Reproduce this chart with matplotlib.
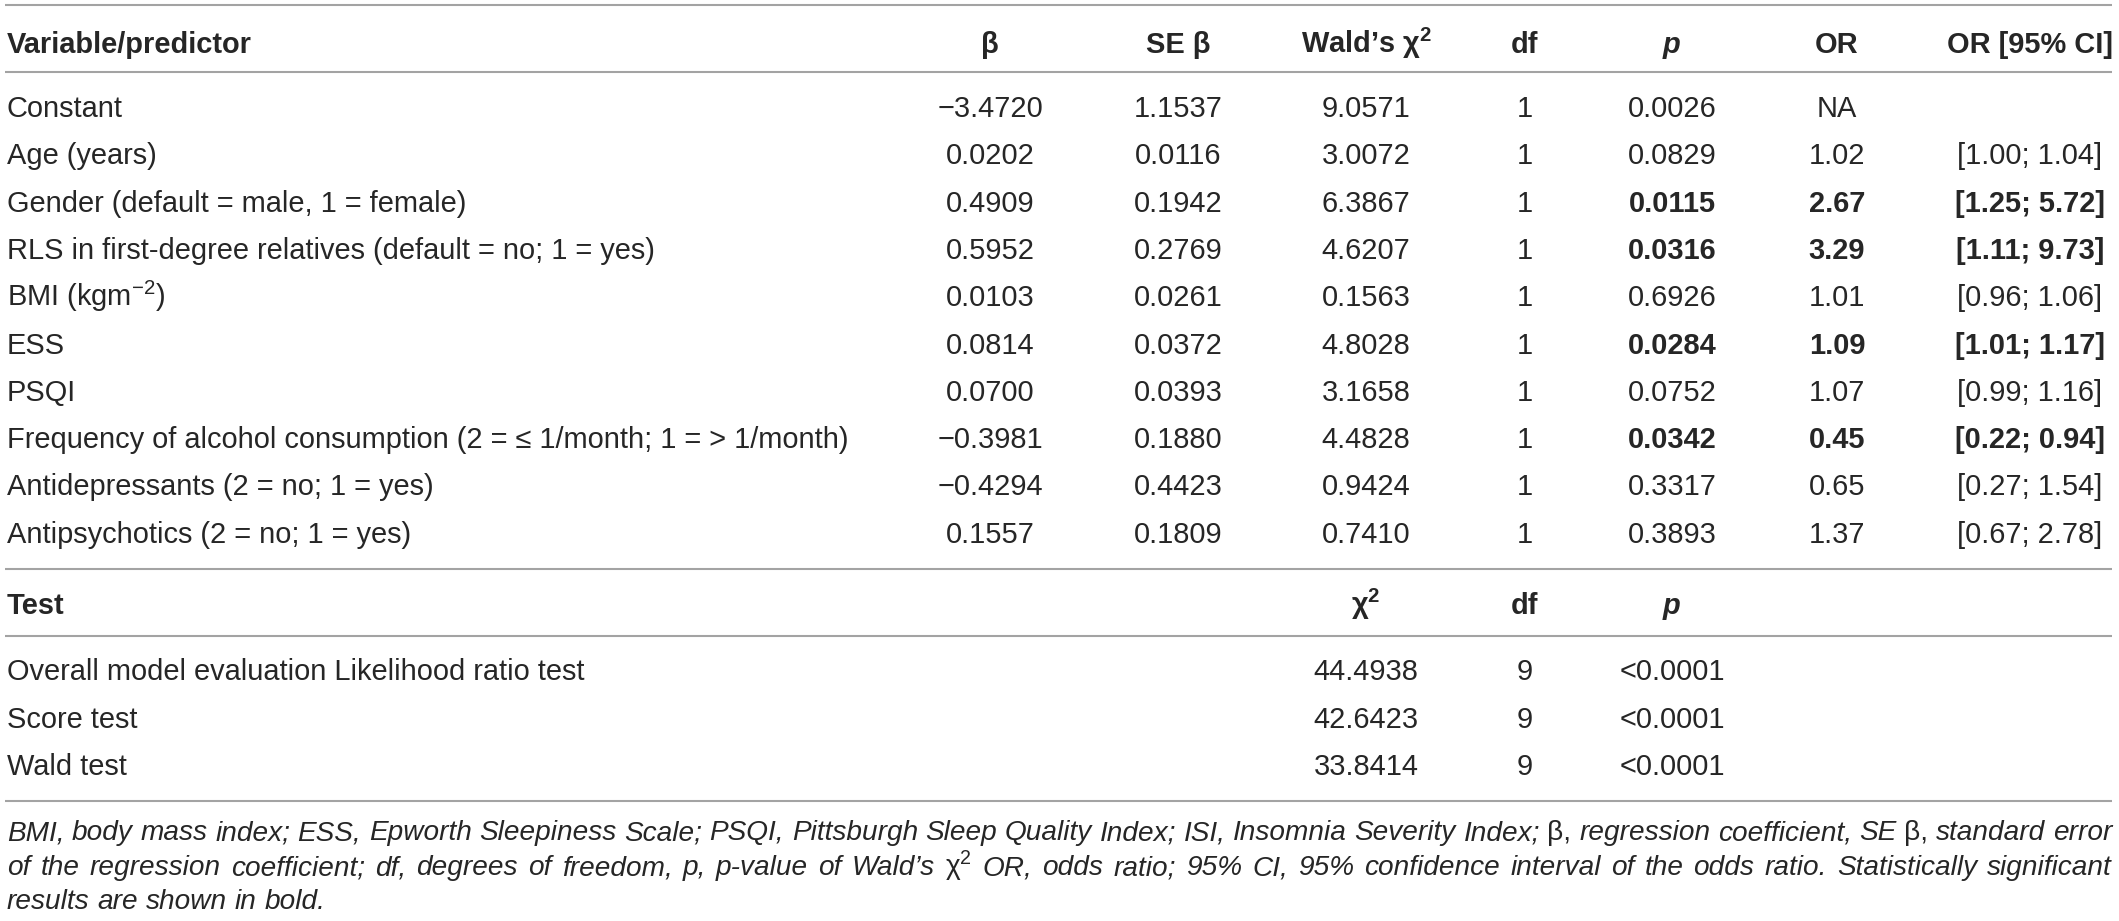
import matplotlib
matplotlib.use("Agg")
import matplotlib.pyplot as plt

plt.rcParams['font.family'] = ['Liberation Sans', 'DejaVu Sans']
plt.rcParams['mathtext.fontset'] = 'custom'
plt.rcParams['mathtext.rm'] = 'Liberation Sans'
plt.rcParams['mathtext.it'] = 'Liberation Sans:italic'
plt.rcParams['mathtext.bf'] = 'Liberation Sans:bold'

# ---------------- data ----------------
headers = ["Variable/predictor", "β", "SE β", "Wald’s χ$^{\\mathbf{2}}$", "df", "p", "OR", "OR [95% CI]"]
predictors = [
    "Constant",
    "Age (years)",
    "Gender (default = male, 1 = female)",
    "RLS in first-degree relatives (default = no; 1 = yes)",
    "BMI (kgm$^{-2}$)",
    "ESS",
    "PSQI",
    "Frequency of alcohol consumption (2 = ≤ 1/month; 1 = > 1/month)",
    "Antidepressants (2 = no; 1 = yes)",
    "Antipsychotics (2 = no; 1 = yes)",
]
beta = ["−3.4720", "0.0202", "0.4909", "0.5952", "0.0103", "0.0814", "0.0700", "−0.3981", "−0.4294", "0.1557"]
se_beta = ["1.1537", "0.0116", "0.1942", "0.2769", "0.0261", "0.0372", "0.0393", "0.1880", "0.4423", "0.1809"]
wald = ["9.0571", "3.0072", "6.3867", "4.6207", "0.1563", "4.8028", "3.1658", "4.4828", "0.9424", "0.7410"]
df = ["1"] * 10
p_val = ["0.0026", "0.0829", "0.0115", "0.0316", "0.6926", "0.0284", "0.0752", "0.0342", "0.3317", "0.3893"]
odds = ["NA", "1.02", "2.67", "3.29", "1.01", "1.09", "1.07", "0.45", "0.65", "1.37"]
ci = ["", "[1.00; 1.04]", "[1.25; 5.72]", "[1.11; 9.73]", "[0.96; 1.06]", "[1.01; 1.17]",
      "[0.99; 1.16]", "[0.22; 0.94]", "[0.27; 1.54]", "[0.67; 2.78]"]
significant = [False, False, True, True, False, True, False, True, False, False]

test_headers = ["Test", "χ$^{\\mathbf{2}}$", "df", "p"]
tests = ["Overall model evaluation Likelihood ratio test", "Score test", "Wald test"]
test_chi2 = ["44.4938", "42.6423", "33.8414"]
test_df = ["9", "9", "9"]
test_p = ["<0.0001", "<0.0001", "<0.0001"]

footnote = [
    "BMI, body mass index; ESS, Epworth Sleepiness Scale; PSQI, Pittsburgh Sleep Quality Index; "
    "ISI, Insomnia Severity Index; β, regression coefficient, SE β, standard error",
    "of the regression coefficient; df, degrees of freedom, p, p-value of Wald’s χ$^2$ OR, odds ratio; "
    "95% CI, 95% confidence interval of the odds ratio. Statistically significant",
    "results are shown in bold.",
]

# ---------------- layout (pixels) ----------------
W, H = 2119, 921
fs = 20.9          # ~29 px
fs_note = 20.2     # ~28 px
txt_col = '#262626'
line_col = '#a3a3a3'
lw = 1.5

x_left, x_right = 7, 2112
col_x = [990, 1178, 1366, 1525, 1672, 1837, 2030]

fig = plt.figure(figsize=(W / 100, H / 100), dpi=100)
ax = fig.add_axes([0, 0, 1, 1])
ax.set_xlim(0, W)
ax.set_ylim(H, 0)
ax.axis('off')


def hline(y):
    ax.plot([x_left - 2, x_right], [y, y], color=line_col, lw=lw, solid_capstyle='butt')


def cell(x, y, s, ha='center', bold=False, italic=False, size=fs):
    ax.text(x, y + 10, s, ha=ha, va='baseline', fontsize=size, color=txt_col,
            fontweight='bold' if bold else 'normal',
            fontstyle='italic' if italic else 'normal')


for y in (5, 72, 569, 636, 801):
    hline(y)

# header
cell(x_left, 43, headers[0], ha='left', bold=True)
for j, h in enumerate(headers[1:]):
    cell(col_x[j], 43, h, bold=True, italic=(h == "p"))

# predictor rows
row_y0, row_dy = 107, 47.3
for i, name in enumerate(predictors):
    y = row_y0 + i * row_dy
    cell(x_left, y, name, ha='left')
    vals = [beta[i], se_beta[i], wald[i], df[i], p_val[i], odds[i], ci[i]]
    for j, v in enumerate(vals):
        cell(col_x[j], y, v, bold=(significant[i] and j >= 4))

# test section
cell(x_left, 604, test_headers[0], ha='left', bold=True)
cell(col_x[2], 604, test_headers[1], bold=True)
cell(col_x[3], 604, test_headers[2], bold=True)
cell(col_x[4], 604, test_headers[3], bold=True, italic=True)
test_y0, test_dy = 670, 47.5
for i, name in enumerate(tests):
    y = test_y0 + i * test_dy
    cell(x_left, y, name, ha='left')
    cell(col_x[2], y, test_chi2[i])
    cell(col_x[3], y, test_df[i])
    cell(col_x[4], y, test_p[i])

# footnote, justified like the journal layout
renderer = fig.canvas.get_renderer()
note_y = [831, 866, 900]
for k, line in enumerate(footnote):
    words = line.split(" ")
    objs = []
    for w in words:
        upright = w.startswith("β") or w.startswith("χ")
        t = ax.text(0, note_y[k] + 9, w, ha='left', va='baseline', fontsize=fs_note,
                    color=txt_col, fontstyle='normal' if upright else 'italic')
        objs.append(t)
    widths = [t.get_window_extent(renderer).width for t in objs]
    if k < len(footnote) - 1:
        gap = (x_right - x_left - sum(widths)) / (len(words) - 1)
    else:
        gap = fs_note * 100 / 72 * 0.28
    x = x_left
    for t, wd in zip(objs, widths):
        t.set_x(x)
        x += wd + gap

fig.savefig("out.png", dpi=100)
